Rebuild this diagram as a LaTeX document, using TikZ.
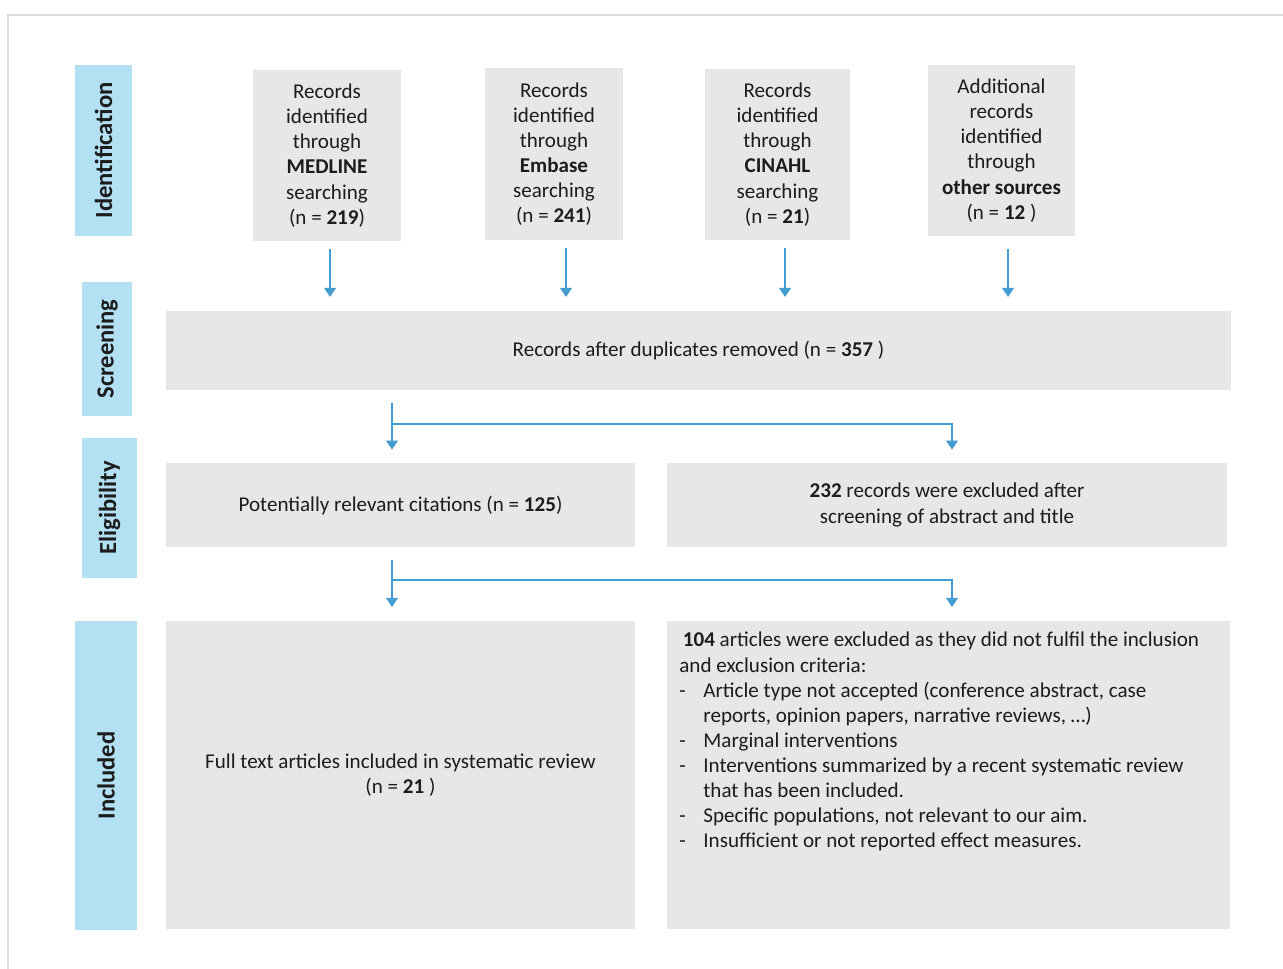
\documentclass[tikz,border=0pt]{standalone}
\usepackage{fontspec}
\setmainfont{Carlito}
\usetikzlibrary{arrows.meta}

\definecolor{stageblue}{RGB}{180,224,243}
\definecolor{boxgrey}{RGB}{230,231,232}
\definecolor{flowblue}{RGB}{66,158,208}
\definecolor{framegrey}{RGB}{221,221,221}
\definecolor{inkgrey}{RGB}{28,28,28}

\tikzset{
  stage/.style={fill=stageblue, rotate=90, inner sep=0pt, text=inkgrey,
    font=\fontsize{14}{16}\selectfont\bfseries},
  greybox/.style={fill=boxgrey, inner sep=0pt, align=center, text=inkgrey,
    font=\fontsize{12}{14.3}\selectfont},
  flow/.style={draw=flowblue, line width=1.5pt}
}

\begin{document}
\begin{tikzpicture}[x=0.02cm, y=-0.02cm]
\useasboundingbox (0,0) rectangle (1283,969);
\fill[white] (0,0) rectangle (1283,969);
\draw[framegrey, line width=1.7pt] (8,969) -- (8,15) -- (1283,15);

\begin{scope}[every node/.style={stage}]
    \node (ident) at (103.5,150.5) [minimum width=3.42cm, minimum height=1.14cm] {Identification};
    \node (screenlab) at (107,349) [minimum width=2.68cm, minimum height=1.0cm] {Screening};
    \node (eliglab) at (109.5,508) [minimum width=2.8cm, minimum height=1.1cm] {Eligibility};
    \node (inclab) at (106,775.5) [minimum width=6.18cm, minimum height=1.24cm] {Included};
\end{scope}

\begin{scope}[every node/.style={greybox}]
    \node (medline) at (327,155.5) [minimum width=2.96cm, minimum height=3.42cm] {Records\\identified\\through\\\textbf{MEDLINE}\\searching\\(n = \textbf{219})};
    \node (embase) at (554,154) [minimum width=2.76cm, minimum height=3.44cm] {Records\\identified\\through\\\textbf{Embase}\\searching\\(n = \textbf{241})};
    \node (cinahl) at (777.5,154.5) [minimum width=2.9cm, minimum height=3.42cm] {Records\\identified\\through\\\textbf{CINAHL}\\searching\\(n = \textbf{21})};
    \node (other) at (1001.5,150.5) [minimum width=2.94cm, minimum height=3.42cm] {Additional\\records\\identified\\through\\\textbf{other sources}\\(n = \textbf{12} )};

    \node (screen) at (698.5,350.5) [minimum width=21.3cm, minimum height=1.58cm] {Records after duplicates removed (n = \textbf{357} )};

    \node (relev) at (400.5,505) [minimum width=9.38cm, minimum height=1.68cm] {Potentially relevant citations (n = \textbf{125})};
    \node (excl1) at (947,505) [minimum width=11.2cm, minimum height=1.68cm] {\textbf{232} records were excluded after\\screening of abstract and title};

    \node (full) at (400.5,775) [minimum width=9.38cm, minimum height=6.16cm] {Full text articles included in systematic review\\(n = \textbf{21} )};
    \node (excl2) at (948.5,775) [minimum width=11.26cm, minimum height=6.16cm] {};
\end{scope}

\node (excl2text) at (679,632) [anchor=north west, align=left, inner sep=0pt, text=inkgrey, font=\fontsize{12}{14.3}\selectfont]
    {\hspace{2pt}\textbf{104} articles were excluded as they did not fulfil the inclusion\\
     and exclusion criteria:\\
     \makebox[13.7pt][l]{-}Article type not accepted (conference abstract, case\\
     \hspace*{13.7pt}reports, opinion papers, narrative reviews, …)\\
     \makebox[13.7pt][l]{-}Marginal interventions\\
     \makebox[13.7pt][l]{-}Interventions summarized by a recent systematic review\\
     \hspace*{13.7pt}that has been included.\\
     \makebox[13.7pt][l]{-}Specific populations, not relevant to our aim.\\
     \makebox[13.7pt][l]{-}Insufficient or not reported effect measures.};

\coordinate (fork1) at (392,424);
\coordinate (fork2) at (392,580);

\begin{scope}[>={Triangle[width=6.6pt,length=5.2pt]}]
    \draw [flow, ->, shorten <=4.5pt, shorten >=7.8pt] ([xshift=0.06cm]medline.south) -- ([xshift=0.06cm]medline.south |- screen.north);
    \draw [flow, ->, shorten <=4.5pt, shorten >=7.8pt] ([xshift=0.24cm]embase.south) -- ([xshift=0.24cm]embase.south |- screen.north);
    \draw [flow, ->, shorten <=4.5pt, shorten >=7.8pt] ([xshift=0.15cm]cinahl.south) -- ([xshift=0.15cm]cinahl.south |- screen.north);
    \draw [flow, ->, shorten <=7.0pt, shorten >=7.8pt] ([xshift=0.13cm]other.south) -- ([xshift=0.13cm]other.south |- screen.north);

    \draw [flow, ->, shorten <=7.4pt, shorten >=7.4pt] (fork1 |- screen.south) -- (fork1 |- relev.north);
    \draw [flow, ->, shorten >=7.4pt] (fork1) -| ([xshift=0.1cm]excl1.north);

    \draw [flow, ->, shorten <=7.4pt, shorten >=7.8pt] (fork2 |- relev.south) -- (fork2 |- full.north);
    \draw [flow, ->, shorten >=7.8pt] (fork2) -| ([xshift=0.07cm]excl2.north);
\end{scope}
\end{tikzpicture}
\end{document}
